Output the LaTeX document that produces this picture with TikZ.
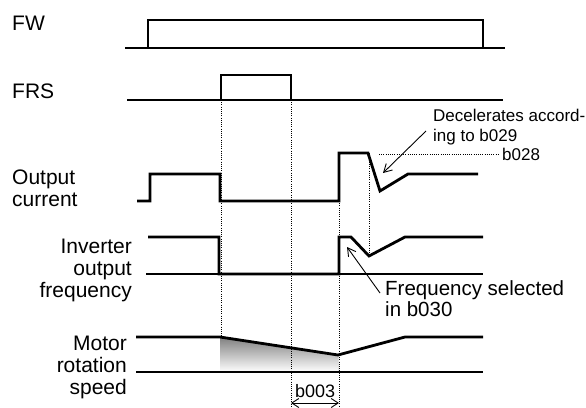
\documentclass[tikz,border=0pt]{standalone}
\usepackage{fontspec}
\setmainfont{Liberation Sans}
\usetikzlibrary{arrows.meta}
\begin{document}
\begin{tikzpicture}[x=1pt,y=-1pt,
  sig/.style={line width=2.8pt, line join=miter},
  bl/.style={line width=1.1pt},
  dl/.style={line width=0.8pt, dash pattern=on 0.8pt off 1.4pt},
  lab/.style={inner sep=0pt, font=\fontsize{21}{22}\selectfont},
  ann/.style={inner sep=0pt, font=\fontsize{17}{20}\selectfont},
  pt/.style={line width=0.9pt, -{Straight Barb[length=8pt,width=9pt]}},
  dbl/.style={line width=0.9pt, {Straight Barb[length=7pt,width=9pt]}-{Straight Barb[length=7pt,width=9pt]}},
]
\useasboundingbox (0,0) rectangle (586,407);
\definecolor{shade}{RGB}{200,200,200}

% grey area under motor speed
\fill[shade] (220,337) -- (338,355) -- (338,372) -- (220,372) -- cycle;

% labels
\node[lab, anchor=base west] (fw) at (12,30) {FW};
\node[lab, anchor=base west] (frs) at (12,98) {FRS};
\node[lab, anchor=base west] (cur) at (12,184) {\begin{tabular}[t]{@{}l@{}}Output\\current\end{tabular}};
\node[lab, anchor=base east] (freq) at (132,253) {\begin{tabular}[t]{@{}r@{}}Inverter\\output\\frequency\end{tabular}};
\node[lab, anchor=base east] (mot) at (127,350) {\begin{tabular}[t]{@{}r@{}}Motor\\rotation\\speed\end{tabular}};

% dotted guide lines
\draw[dl] (221,100) -- (221,337);
\draw[dl] (291,100) -- (291,407);
\draw[dl] (339,201) -- (339,407);
\draw[dl] (369,153) -- (369,256);
\draw[dl] (379,154) -- (498,154);

% thin baselines
\draw[bl] (148,48) -- (483,48);
\draw[bl] (221,100) -- (291,100);
\draw[bl] (146,274) -- (483,274);
\draw[bl] (136,372) -- (483,372);

% signals
\draw[sig] (125,48) -- (148,48) -- (148,20) -- (483,20) -- (483,48) -- (505,48);
\draw[sig] (127,100) -- (221,100) -- (221,75) -- (291,75) -- (291,100) -- (503,100);
\draw[sig] (137,201) -- (150,201) -- (150,174) -- (220,174) -- (220,201) -- (339,201) -- (339,153) -- (368,153) -- (380,191) -- (408,174) -- (478,174);
\draw[sig] (148,237) -- (219,237) -- (219,274) -- (339,274) -- (339,237) -- (351,237) -- (369,256) -- (405,237) -- (483,237);
\draw[sig] (136,337) -- (220,337) -- (338,355) -- (405,337) -- (483,337);

% annotations
\node[ann, anchor=base west] (dec) at (433,121) {\begin{tabular}[t]{@{}l@{}}Decelerates accord-\\ing to b029\end{tabular}};
\node[ann, anchor=base west] (b028) at (502,160) {b028};
\node[inner sep=0pt, anchor=base west, font=\fontsize{20.5}{21.5}\selectfont] (fsel) at (385,295) {\begin{tabular}[t]{@{}l@{}}Frequency selected\\in b030\end{tabular}};
\node[inner sep=0pt, anchor=base west, font=\fontsize{18}{20}\selectfont] (b003) at (295,397) {b003};

\coordinate (decA) at (426,131);
\coordinate (decB) at (383,173);
\draw[pt] (decA) -- (decB);
\coordinate (fsA) at (380,293);
\coordinate (fsB) at (347,247);
\draw[pt] (fsA) -- (fsB);
\coordinate (b3a) at (291,403);
\coordinate (b3b) at (339,403);
\draw[dbl] (b3a) -- (b3b);
\end{tikzpicture}
\end{document}
